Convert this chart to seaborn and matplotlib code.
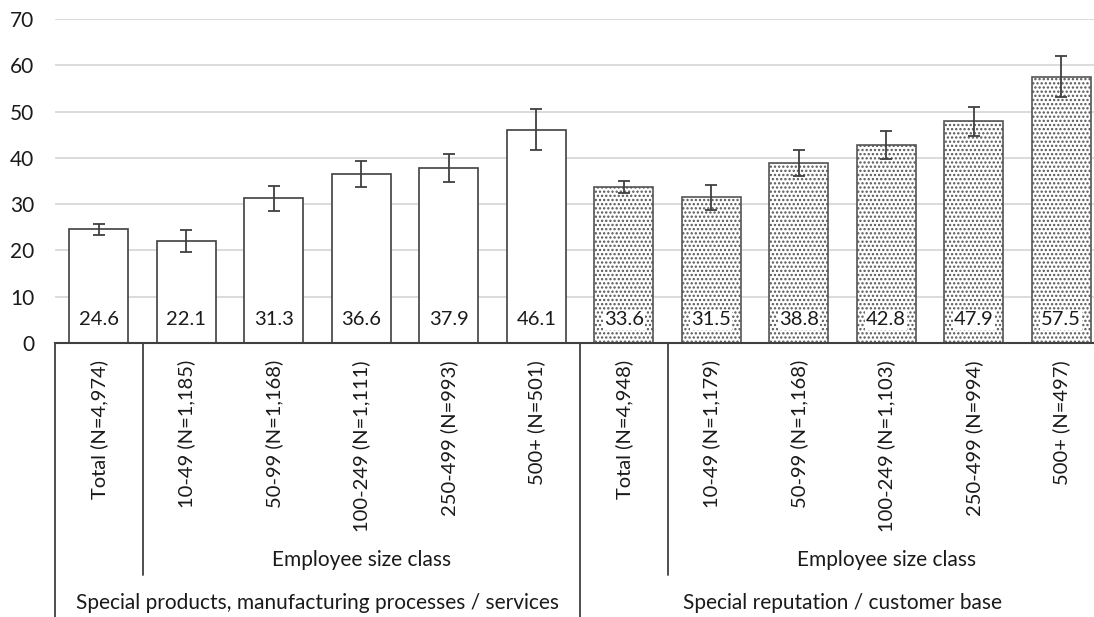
import numpy as np
import pandas as pd
import matplotlib
matplotlib.use("Agg")
import matplotlib.pyplot as plt
import seaborn as sns

# --- data ---
GROUP_A_NAME = "Special products, manufacturing processes / services"
GROUP_B_NAME = "Special reputation / customer base"
SUBGROUP_NAME = "Employee size class"

group_a_labels = ["Total (N=4,974)", "10-49 (N=1,185)", "50-99 (N=1,168)",
                  "100-249 (N=1,111)", "250-499 (N=993)", "500+ (N=501)"]
group_a_values = [24.6, 22.1, 31.3, 36.6, 37.9, 46.1]
group_a_lower = [23.4, 19.7, 28.6, 33.7, 34.8, 41.7]
group_a_upper = [25.8, 24.4, 33.9, 39.4, 40.9, 50.5]

group_b_labels = ["Total (N=4,948)", "10-49 (N=1,179)", "50-99 (N=1,168)",
                  "100-249 (N=1,103)", "250-499 (N=994)", "500+ (N=497)"]
group_b_values = [33.6, 31.5, 38.8, 42.8, 47.9, 57.5]
group_b_lower = [32.3, 28.7, 36.0, 39.8, 44.8, 53.2]
group_b_upper = [34.9, 34.1, 41.6, 45.7, 51.0, 62.0]

y_ticks = [0, 10, 20, 30, 40, 50, 60, 70]

# --- build a long table ---
df = pd.DataFrame({
    "group": ["A"] * len(group_a_labels) + ["B"] * len(group_b_labels),
    "label": group_a_labels + group_b_labels,
    "value": group_a_values + group_b_values,
    "lower": group_a_lower + group_b_lower,
    "upper": group_a_upper + group_b_upper,
})
df["slot"] = df["group"] + "|" + df["label"]
order = df["slot"].tolist()

sns.set_style("white")
plt.rcParams["font.family"] = ["Lato", "DejaVu Sans"]
plt.rcParams["hatch.linewidth"] = 1.1

DARK = "#404040"
TEXT = "#1a1a1a"

fig = plt.figure(figsize=(10.94, 6.17), dpi=100)
ax = fig.add_axes([55 / 1094, 274 / 617, 1050 / 1094, 324 / 617])

sns.barplot(data=df, x="slot", y="value", order=order, color="white",
            edgecolor=DARK, linewidth=1.2, width=0.67, saturation=1,
            errorbar=None, ax=ax, zorder=3)

n_a = len(group_a_labels)
for i, patch in enumerate(ax.patches):
    patch.set_facecolor("white")
    if df["group"].iloc[i] == "B":
        patch.set_hatch("....")
        patch.set_edgecolor("#555555")

xpos = np.arange(len(df))
ax.errorbar(xpos, df["value"],
            yerr=[df["value"] - df["lower"], df["upper"] - df["value"]],
            fmt="none", ecolor=DARK, elinewidth=1.3, capsize=4, capthick=1.3,
            zorder=4)

# value labels near the bottom of each bar
for x, v, g in zip(xpos, df["value"], df["group"]):
    ax.text(x, 5, f"{v:.1f}", ha="center", va="center", fontsize=14.5,
            color=TEXT, zorder=5,
            bbox=dict(facecolor="white", edgecolor="none", pad=0.8) if g == "B" else None)

ax.set_ylim(0, 70)
ax.set_xlim(-0.5, len(df) - 0.5)
ax.set_yticks(y_ticks)
ax.tick_params(axis="y", length=0, pad=15, labelsize=15, labelcolor=TEXT)
ax.set_xticks([])
ax.set_xlabel("")
ax.set_ylabel("")
ax.yaxis.grid(True, color="#d9d9d9", linewidth=1.3)
ax.set_axisbelow(True)
for side in ["left", "right", "top"]:
    ax.spines[side].set_visible(False)
ax.spines["bottom"].set_color(DARK)
ax.spines["bottom"].set_linewidth(1.5)
ax.spines["bottom"].set_zorder(6)

# --- multi-level category axis below ---
trans = ax.get_xaxis_transform()
full_bottom = -274 / 324
sub_bottom = -(575 - 343) / 324

for x, lab in zip(xpos, df["label"]):
    ax.text(x, -17 / 324, lab, rotation=90, ha="center", va="top",
            fontsize=14.5, color=TEXT, transform=trans)

for start in [-0.5, n_a - 0.5]:
    ax.plot([start, start], [0, full_bottom], color=DARK, lw=1.3,
            transform=trans, clip_on=False)
    ax.plot([start + 1, start + 1], [0, sub_bottom], color=DARK, lw=1.3,
            transform=trans, clip_on=False)

for first, count, name in [(0, n_a, GROUP_A_NAME), (n_a, len(group_b_labels), GROUP_B_NAME)]:
    ax.text(first + count / 2, -(560 - 343) / 324, SUBGROUP_NAME,
            ha="center", va="center", fontsize=15, color=TEXT, transform=trans)
    ax.text(first + (count - 1) / 2, -(603 - 343) / 324, name,
            ha="center", va="center", fontsize=15, color=TEXT, transform=trans)

fig.savefig("out.png", dpi=100)
